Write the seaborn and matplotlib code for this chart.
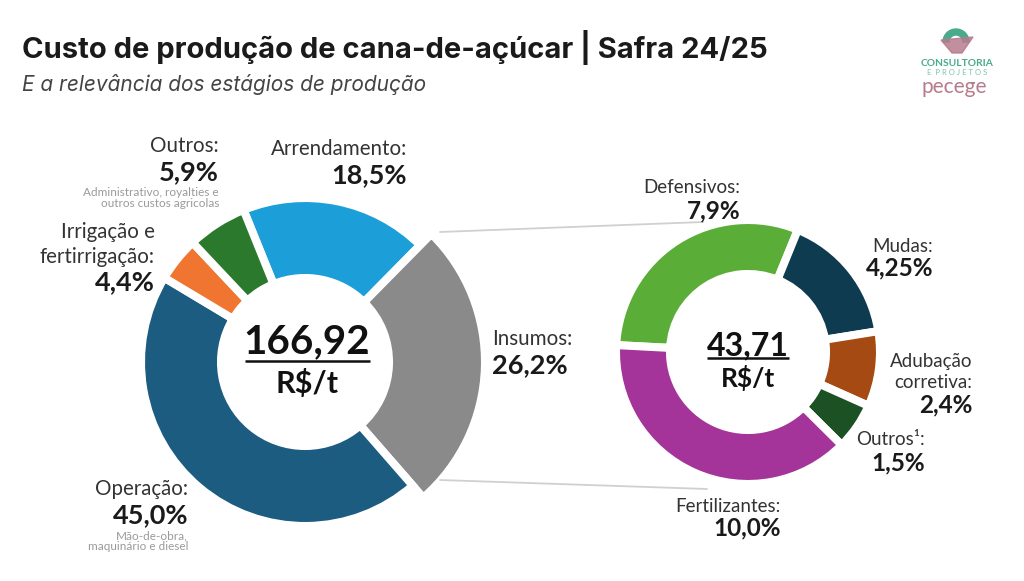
import matplotlib
matplotlib.use("Agg")
import matplotlib.pyplot as plt
import seaborn as sns
from matplotlib.patches import Wedge, Polygon

# Custo total (R$/t) por estágio
custo_labels = ["Arrendamento", "Insumos", "Operação", "Irrigação e\nfertirrigação", "Outros"]
custo_pct = [18.5, 26.2, 45.0, 4.4, 5.9]
custo_cores = ["#1c9fd9", "#8a8a8a", "#1b5c80", "#ef7531", "#2a792d"]
custo_total = "166,92"

# Abertura dos insumos
insumos_labels = ["Defensivos", "Mudas", "Adubação\ncorretiva", "Outros¹", "Fertilizantes"]
insumos_pct = [7.9, 4.25, 2.4, 1.5, 10.0]
insumos_cores = ["#5aad37", "#0f3b50", "#a44a12", "#1c5124", "#a4339a"]
insumos_total = "43,71"

notas = {"Outros": "Administrativo, royalties e\noutros custos agricolas",
         "Operação": "Mão-de-obra,\nmaquinário e diesel"}


def fmt(v):
    s = f"{v:.1f}" if round(v, 1) == v else f"{v:.2f}"
    return s.replace(".", ",") + "%"


sns.set_theme(style="white")
plt.rcParams["font.family"] = ["Lato", "DejaVu Sans"]

W, H = 1024, 581
fig = plt.figure(figsize=(W / 100, H / 100), dpi=100)
ax = fig.add_axes([0, 0, 1, 1])


def Y(py):
    return H - py


gap = 5.8  # white gap between wedges (~8 px)

# donut da esquerda
w1, _ = ax.pie(custo_pct, colors=custo_cores, startangle=112, counterclock=False,
               center=(305, Y(362)), radius=164,
               wedgeprops=dict(width=80, edgecolor="white", linewidth=gap))
# insumos em destaque
w1[1].set_radius(180)
w1[1].set_width(96)

# donut da direita
w2, _ = ax.pie(insumos_pct, colors=insumos_cores, startangle=177, counterclock=False,
               center=(748, Y(352)), radius=132,
               wedgeprops=dict(width=54, edgecolor="white", linewidth=gap))

ax.set_xlim(0, W)
ax.set_ylim(0, H)
ax.set_aspect("auto")
ax.axis("off")

# linhas de ligação
ax.plot([440, 703], [Y(232), Y(222)], color="#d0d0d0", lw=1.3)
ax.plot([440, 707], [Y(480), Y(489)], color="#d0d0d0", lw=1.3)


def txt(x, y, s, size, color="#333333", weight="normal", ha="right", va="baseline", **kw):
    ax.text(x, Y(y), s, fontsize=size, color=color, fontweight=weight,
            ha=ha, va=va, **kw)


# rótulos esquerda (x, linha de base do nome, linha de base do %)
pos_esq = {"Arrendamento": (407, 155, 183),
           "Insumos": (492, 345, 373),
           "Operação": (188, 495, 523),
           "Irrigação e\nfertirrigação": (155, 263, 290),
           "Outros": (219, 152, 180)}
for lab, v in zip(custo_labels, custo_pct):
    x, yn, yp = pos_esq[lab]
    ha = "left" if lab == "Insumos" else "right"
    txt(x, yn, lab + ":", 14.8, ha=ha, linespacing=1.3)
    txt(x, yp, fmt(v), 19.5, color="#1a1a1a", weight="bold", ha=ha)
    if lab in notas:
        txt(x, yp + 7, notas[lab], 8.5, color="#9a9a9a", va="top", linespacing=1.0)

# rótulos direita
pos_dir = {"Defensivos": (740, 193, 218),
           "Mudas": (933, 252, 275),
           "Adubação\ncorretiva": (972, 388, 412),
           "Outros¹": (925, 445, 470),
           "Fertilizantes": (781, 512, 535)}
for lab, v in zip(insumos_labels, insumos_pct):
    x, yn, yp = pos_dir[lab]
    txt(x, yn, lab + ":", 13.5, linespacing=1.3)
    txt(x, yp, fmt(v), 17.5, color="#1a1a1a", weight="bold")

# totais no centro
for cx, cy, val, fs, ul, ry, rfs in [(307, 353, custo_total, 29, (245, 370, 361), 393, 22),
                                     (748, 355, insumos_total, 23, (707, 789, 358), 387, 19)]:
    txt(cx, cy, val, fs, color="#111111", weight="bold", ha="center")
    ax.plot([ul[0], ul[1]], [Y(ul[2]), Y(ul[2])], color="#111111", lw=1.8,
            solid_capstyle="butt")
    txt(cx, ry, "R$/t", rfs, color="#111111", weight="bold", ha="center")

# título
ax.text(22, Y(58), "Custo de produção de cana-de-açúcar | Safra 24/25", fontsize=21,
        fontweight="bold", color="#1a1a1a", ha="left", va="baseline", family="Inter")
ax.text(22, Y(91), "E a relevância dos estágios de produção", fontsize=15,
        style="italic", color="#444444", ha="left", va="baseline", family="Inter")

# logo
ax.add_patch(Wedge((956, Y(42)), 13, 0, 180, width=6, color="#4aaa8c"))
ax.add_patch(Polygon([(941, Y(40)), (973, Y(37)), (962, Y(53)), (952, Y(53))],
                     closed=True, color="#b67b8c", alpha=0.85))
ax.text(957, Y(66), "CONSULTORIA", fontsize=7.4, fontweight="bold", color="#4aaa8c",
        ha="center", va="baseline")
ax.text(957, Y(75), "E  P R O J E T O S", fontsize=5.5, color="#7cc3ad",
        ha="center", va="baseline")
ax.text(954, Y(93), "pecege", fontsize=15, color="#b67b8c", ha="center", va="baseline")

fig.savefig("out.png", dpi=100, facecolor="white")
